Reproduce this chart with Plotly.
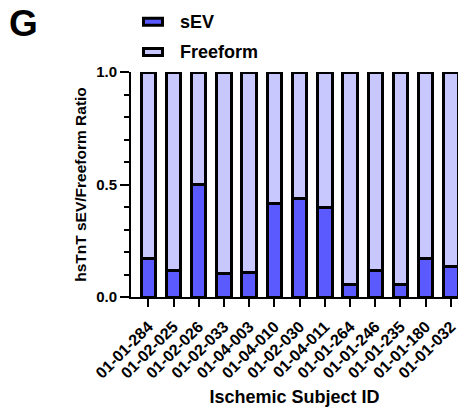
import plotly.graph_objects as go

# Ischemic subjects and their hsTnT sEV fraction of total
subject_ids = ["01-01-284", "01-02-025", "01-02-026", "01-02-033", "01-04-003",
               "01-04-010", "01-02-030", "01-04-011", "01-01-264", "01-01-246",
               "01-01-235", "01-01-180", "01-01-032"]
sev_ratio = [0.17, 0.12, 0.50, 0.105, 0.11, 0.415, 0.44, 0.40, 0.055, 0.12, 0.055, 0.17, 0.135]
freeform_ratio = [round(1 - v, 3) for v in sev_ratio]

SEV_COLOR = "#5A5AFF"
FREE_COLOR = "#C8C8FF"
FONT = "Liberation Sans, Arial, sans-serif"

W, H = 469, 413
L, R, T, B = 131, 11, 72, 116
PW, PH = W - L - R, H - T - B

fig = go.Figure()
fig.add_trace(go.Bar(x=subject_ids, y=sev_ratio, name="sEV",
                     marker=dict(color=SEV_COLOR, line=dict(color="black", width=3)),
                     width=0.57, showlegend=False))
fig.add_trace(go.Bar(x=subject_ids, y=freeform_ratio, name="Freeform",
                     marker=dict(color=FREE_COLOR, line=dict(color="black", width=3)),
                     width=0.57, showlegend=False))


def px_x(p):
    return (p - L) / PW


def px_y(p):
    return (H - B - p) / PH


# hand-drawn legend above the plot
shapes = []
annotations = []
for label, color, cy in [("sEV", SEV_COLOR, 21.7), ("Freeform", FREE_COLOR, 52)]:
    shapes.append(dict(type="rect", xref="paper", yref="paper",
                       x0=px_x(143.5), x1=px_x(162.5), y0=px_y(cy + 3.5), y1=px_y(cy - 3.5),
                       fillcolor=color, line=dict(color="black", width=3)))
    annotations.append(dict(text=label, xref="paper", yref="paper",
                            x=px_x(178), y=px_y(cy), xanchor="left", yanchor="middle",
                            showarrow=False,
                            font=dict(family=FONT, size=18, color="black", weight="bold")))

# panel letter
annotations.append(dict(text="G", xref="paper", yref="paper",
                        x=px_x(7), y=px_y(23.5), xanchor="left", yanchor="middle",
                        showarrow=False,
                        font=dict(family=FONT, size=37, color="black", weight="bold")))

fig.update_layout(
    width=W, height=H,
    margin=dict(l=L, r=R, t=T, b=B),
    barmode="stack",
    plot_bgcolor="white", paper_bgcolor="white",
    font=dict(family=FONT, color="black"),
    shapes=shapes, annotations=annotations,
    xaxis=dict(
        range=[-0.685, 12.28], automargin=False,
        showline=True, linecolor="black", linewidth=2,
        ticks="outside", ticklen=8, tickwidth=2, tickcolor="black",
        tickangle=-45, ticklabelstandoff=4,
        tickfont=dict(family=FONT, size=16, color="black", weight="bold"),
        title=dict(text="Ischemic Subject ID", standoff=10,
                   font=dict(family=FONT, size=18, color="black", weight="bold")),
        showgrid=False, zeroline=False,
    ),
    yaxis=dict(
        range=[0, 1.0], automargin=False,
        tickvals=[0, 0.5, 1.0], ticktext=["0.0", "0.5", "1.0"],
        showline=True, linecolor="black", linewidth=2,
        ticks="outside", ticklen=9, tickwidth=2, tickcolor="black",
        minor=dict(dtick=0.1, ticks="outside", ticklen=5, tickwidth=2, tickcolor="black"),
        tickfont=dict(family=FONT, size=15, color="black", weight="bold"),
        title=dict(text="hsTnT sEV/Freeform Ratio", standoff=6,
                   font=dict(family=FONT, size=15.5, color="black", weight="bold")),
        showgrid=False, zeroline=False,
    ),
)

fig.write_html("out.html")
